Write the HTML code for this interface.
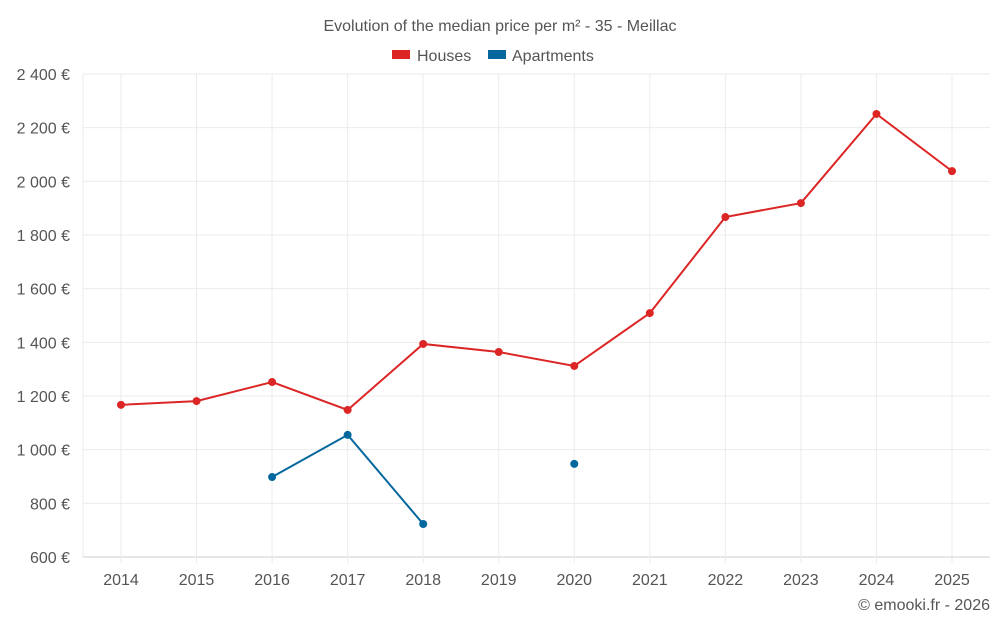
<!DOCTYPE html>
<html><head><meta charset="utf-8"><style>
html,body{margin:0;padding:0;background:#fff;}
svg{display:block;font-family:"Liberation Sans",sans-serif;}
</style></head><body>
<svg id="chart" width="1000" height="625">
<text x="500" y="31" text-anchor="middle" font-size="16" fill="#555">Evolution of the median price per m² - 35 - Meillac</text>
<g>
<g><rect x="392" y="50" width="18" height="9" fill="#dc2626"/><text x="417" y="61" font-size="16" fill="#555">Houses</text></g>
<g><rect x="488" y="50" width="18" height="9" fill="#04679e"/><text x="512" y="61" font-size="16" fill="#555">Apartments</text></g>
</g>
<g id="grid"></g><g id="axes"></g><g id="series"></g>
<text x="990" y="610" text-anchor="end" font-size="16" fill="#555">© emooki.fr - 2026</text>
</svg>
<script>
const years=[2014,2015,2016,2017,2018,2019,2020,2021,2022,2023,2024,2025];
const houses=[1167,1181,1252,1148,1394,1364,1312,1509,1867,1919,2251,2038];
const apartments=[null,null,898,1055,723,null,947,null,null,null,null,null];
const yTicks=[600,800,1000,1200,1400,1600,1800,2000,2200,2400];
const L=83,R=990,T=74,B=557,yMin=600,yMax=2400;
const ns="http://www.w3.org/2000/svg";
const xs=i=>121+i*(952-121)/(years.length-1);
const ys=v=>B-(v-yMin)/(yMax-yMin)*(B-T);
function mk(t,a,p){const e=document.createElementNS(ns,t);for(const k in a)e.setAttribute(k,a[k]);p.appendChild(e);return e;}
const grid=document.getElementById('grid'),axes=document.getElementById('axes'),ser=document.getElementById('series');
yTicks.forEach(v=>{
 const l=mk('line',{x1:L,x2:R,y1:ys(v),y2:ys(v),stroke:v===yMin?'#ccc':'#ebebeb','stroke-width':1},grid);
 
 
 const t=mk('text',{x:70,y:ys(v)+6,'text-anchor':'end','font-size':16,fill:'#555'},axes);
 t.textContent=v.toLocaleString('fr-FR').replace(/\u202f|\u00a0/g,' ')+' €';
 
 
});
years.forEach((y,i)=>{
 const l=mk('line',{x1:xs(i),x2:xs(i),y1:T,y2:B+6,stroke:'#ebebeb','stroke-width':1},grid);
 
 
 const t=mk('text',{x:xs(i),y:585,'text-anchor':'middle','font-size':16,fill:'#555'},axes);
 t.textContent=y;
 
 
});
mk('line',{x1:L,x2:L,y1:T,y2:B,stroke:'#ebebeb'},grid);
function draw(data,color,name){
 let seg=[];const segs=[];
 data.forEach((v,i)=>{if(v==null){if(seg.length)segs.push(seg);seg=[];}else seg.push([xs(i),ys(v)]);});
 if(seg.length)segs.push(seg);
 segs.forEach(s=>{if(s.length>1){const p=mk('polyline',{points:s.map(q=>q.join(',')).join(' '),fill:'none',stroke:color,'stroke-width':2},ser);
 
 }});
 data.forEach((v,i)=>{if(v==null)return;const c=mk('circle',{cx:xs(i),cy:ys(v),r:4,fill:color},ser);
 
 });
}
draw(houses,'#dc2626','houses');
draw(apartments,'#04679e','apartments');
</script>
</body></html>
